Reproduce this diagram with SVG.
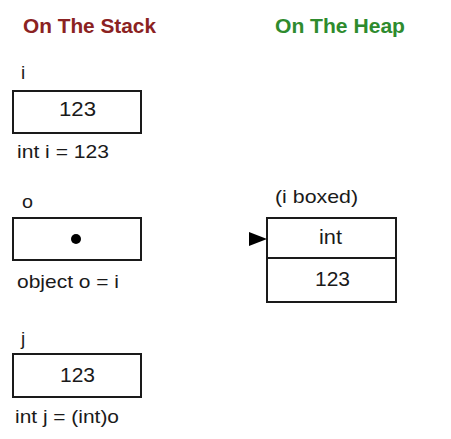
<svg xmlns="http://www.w3.org/2000/svg" width="451" height="439" viewBox="0 0 451 439">
<style>
.t{font-family:"Liberation Sans",Arial,sans-serif;font-size:19px;fill:#1a1a1a}
.v{font-family:"Liberation Sans",Arial,sans-serif;font-size:20px;fill:#1a1a1a}
.h{font-family:"Liberation Sans",Arial,sans-serif;font-size:20px;font-weight:bold}
.b{fill:#fff;stroke:#1a1a1a;stroke-width:2}
</style>
<rect width="451" height="439" fill="#fff"/>
<text class="h" x="23" y="33" fill="#8b2222" textLength="133" lengthAdjust="spacingAndGlyphs">On The Stack</text>
<text class="h" x="275" y="33" fill="#2e8b2e" textLength="130" lengthAdjust="spacingAndGlyphs">On The Heap</text>
<g id="i">
<text class="t" x="21" y="79">i</text>
<rect class="b" x="13" y="91" width="128" height="42"/>
<text class="v" x="59" y="116" textLength="37" lengthAdjust="spacingAndGlyphs">123</text>
<text class="t" x="17" y="158" textLength="92" lengthAdjust="spacingAndGlyphs">int i = 123</text>
</g>
<g id="o">
<text class="t" x="22" y="208" textLength="11" lengthAdjust="spacingAndGlyphs">o</text>
<rect class="b" x="13" y="218" width="128" height="42"/>
<text class="t" x="17" y="288" textLength="102" lengthAdjust="spacingAndGlyphs">object o = i</text>
</g>
<g id="boxed">
<text class="t" x="275" y="203" textLength="83" lengthAdjust="spacingAndGlyphs">(i boxed)</text>
<rect class="b" x="267" y="218" width="129" height="84"/>
<line x1="267" y1="258" x2="396" y2="258" stroke="#1a1a1a" stroke-width="2"/>
<text class="v" x="319" y="244" textLength="23" lengthAdjust="spacingAndGlyphs">int</text>
<text class="v" x="315" y="286" textLength="35" lengthAdjust="spacingAndGlyphs">123</text>
</g>
<g id="j">
<text class="t" x="21" y="345">j</text>
<rect class="b" x="13" y="354" width="128" height="43"/>
<text class="v" x="60" y="382" textLength="35" lengthAdjust="spacingAndGlyphs">123</text>
<text class="t" x="15" y="423" textLength="104" lengthAdjust="spacingAndGlyphs">int j = (int)o</text>
</g>
<g id="connectors">
<circle cx="76" cy="239" r="5" fill="#000"/>
<polygon points="249,232 249,246 267,239" fill="#000"/>
</g>
</svg>
